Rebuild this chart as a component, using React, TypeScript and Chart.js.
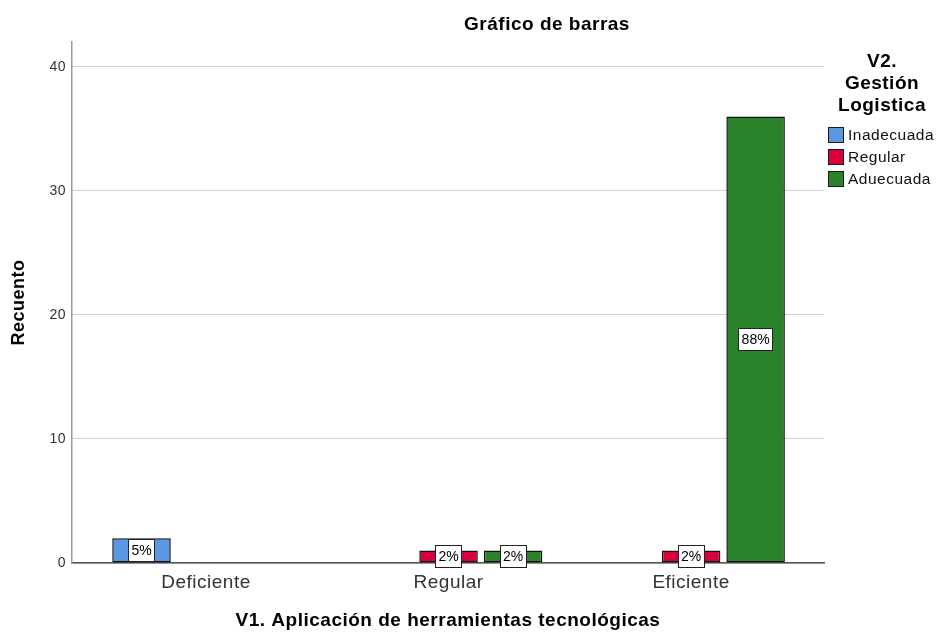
import React, { useEffect, useRef } from 'react';
import { Chart, registerables } from 'chart.js';

Chart.register(...registerables);

const categories = ['Deficiente', 'Regular', 'Eficiente'];
const categoryPositions = [0, 1, 2];
const seriesNames = ['Inadecuada', 'Regular', 'Aduecuada'];
const inadecuada: (number | null)[] = [2, null, null];
const regular: (number | null)[] = [null, 1, 1];
const aduecuada: (number | null)[] = [null, 1, 36];
const inadecuadaLabels = ['5%', '', ''];
const regularLabels = ['', '2%', '2%'];
const aduecuadaLabels = ['', '2%', '88%'];
const seriesColors = ['#5B96E2', '#D8003D', '#2A822A'];
const yTicks = [0, 10, 20, 30, 40];
const chartTitle = 'Gráfico de barras';
const xTitle = 'V1. Aplicación de herramientas tecnológicas';
const yTitle = 'Recuento';
const legendTitle = ['V2.', 'Gestión', 'Logistica'];

const FONT = '"Liberation Sans", Arial, Helvetica, sans-serif';
const SPACING = '0.5px';

const seriesValues = [inadecuada, regular, aduecuada];
const seriesLabels = [inadecuadaLabels, regularLabels, aduecuadaLabels];

const spacingPlugin = {
  id: 'letterSpacingPlugin',
  beforeUpdate(chart: any) {
    chart.ctx.letterSpacing = SPACING;
  },
  beforeDraw(chart: any) {
    chart.ctx.letterSpacing = SPACING;
  },
};

const valueLabelPlugin = {
  id: 'valueLabels',
  afterDatasetsDraw(chart: any) {
    const ctx = chart.ctx;
    chart.data.datasets.forEach((ds: any, di: number) => {
      const meta = chart.getDatasetMeta(di);
      const labels = seriesLabels[di];
      meta.data.forEach((el: any, i: number) => {
        const v = seriesValues[di][i];
        const t = labels[i];
        if (v == null || !t) return;
        const cx = el.x;
        const cy = (el.y + el.base) / 2;
        ctx.save();
        ctx.letterSpacing = '0px';
        ctx.font = `14px ${FONT}`;
        const w = Math.round(ctx.measureText(t).width + 7);
        const h = 23;
        const left = Math.round(cx - w / 2);
        const top = Math.round(cy - h / 2);
        ctx.fillStyle = '#ffffff';
        ctx.fillRect(left, top, w, h);
        ctx.strokeStyle = '#222222';
        ctx.lineWidth = 1;
        ctx.strokeRect(left + 0.5, top + 0.5, w - 1, h - 1);
        ctx.fillStyle = '#000000';
        ctx.textAlign = 'center';
        ctx.textBaseline = 'middle';
        ctx.fillText(t, cx, top + h / 2 + 0.5);
        ctx.restore();
      });
    });
  },
};

const titleLegendPlugin = {
  id: 'titleLegend',
  afterDraw(chart: any) {
    const ctx = chart.ctx;
    ctx.save();
    ctx.letterSpacing = SPACING;
    // chart title
    ctx.fillStyle = '#000000';
    ctx.font = `bold 19px ${FONT}`;
    ctx.textAlign = 'center';
    ctx.textBaseline = 'middle';
    ctx.fillText(chartTitle, 547, 25);

    // legend title
    const legendCenter = 882;
    ctx.font = `bold 19px ${FONT}`;
    legendTitle.forEach((line, i) => {
      ctx.fillText(line, legendCenter, 62 + i * 22);
    });

    // legend items
    ctx.font = `15.5px ${FONT}`;
    ctx.textAlign = 'left';
    seriesNames.forEach((name, i) => {
      const by = 127 + i * 22;
      ctx.fillStyle = seriesColors[i];
      ctx.fillRect(828, by, 16, 16);
      ctx.strokeStyle = '#1a1a1a';
      ctx.lineWidth = 1;
      ctx.strokeRect(828.5, by + 0.5, 15, 15);
      ctx.fillStyle = '#111111';
      ctx.fillText(name, 848, by + 8.5);
    });
    ctx.restore();
  },
};

export default function App() {
  const ref = useRef<HTMLCanvasElement>(null);

  useEffect(() => {
    const canvas = ref.current;
    if (!canvas) return;

    const datasets = seriesNames.map((name, si) => ({
      label: name,
      data: categoryPositions.map((x, i) => ({ x, y: seriesValues[si][i] })),
      backgroundColor: seriesColors[si],
      borderColor: '#111111',
      borderWidth: 1.5,
      borderSkipped: false as any,
      barPercentage: 0.907,
      categoryPercentage: 0.798,
    }));

    const chart = new Chart(canvas, {
      type: 'bar',
      data: { datasets: datasets as any },
      plugins: [spacingPlugin, valueLabelPlugin, titleLegendPlugin],
      options: {
        responsive: false,
        animation: false,
        layout: { padding: { top: 42, right: 112, left: 0, bottom: 0 } },
        plugins: {
          legend: { display: false },
          title: { display: false },
          tooltip: { enabled: false },
        },
        scales: {
          x: {
            type: 'linear',
            min: -0.5526,
            max: 2.548,
            offset: false,
            grid: { display: false, drawTicks: false },
            border: { display: true, color: '#555555', width: 1.5 },
            afterBuildTicks: (scale: any) => {
              scale.ticks = categoryPositions.map((v) => ({ value: v }));
            },
            afterFit: (scale: any) => {
              scale.height = 72;
            },
            ticks: {
              padding: 8,
              color: '#333333',
              font: { family: FONT, size: 19 },
              maxRotation: 0,
              autoSkip: false,
              callback: (v: any) => {
                const idx = categoryPositions.indexOf(Number(v));
                return idx >= 0 ? categories[idx] : '';
              },
            },
            title: {
              display: true,
              text: xTitle,
              color: '#000000',
              font: { family: FONT, size: 19, weight: 'bold' },
              padding: { top: 0, bottom: 3 },
            },
          },
          y: {
            type: 'linear',
            min: 0,
            max: 42,
            grid: { color: '#d0d0d0', lineWidth: 1, drawTicks: false },
            border: { display: true, color: '#999999', width: 1.5 },
            afterBuildTicks: (scale: any) => {
              scale.ticks = yTicks.map((v) => ({ value: v }));
            },
            afterFit: (scale: any) => {
              scale.width = 72;
            },
            ticks: {
              padding: 6,
              color: '#333333',
              font: { family: FONT, size: 14 },
            },
            title: {
              display: true,
              text: yTitle,
              color: '#000000',
              font: { family: FONT, size: 18, weight: 'bold' },
              padding: { top: 8, bottom: 0 },
            },
          },
        },
      } as any,
    });

    return () => {
      chart.destroy();
    };
  }, []);

  return (
    <div style={{ position: 'absolute', left: 0, top: 0, width: 936, height: 635, background: '#ffffff' }}>
      <canvas ref={ref} width={936} height={635} style={{ display: 'block' }} />
    </div>
  );
}
